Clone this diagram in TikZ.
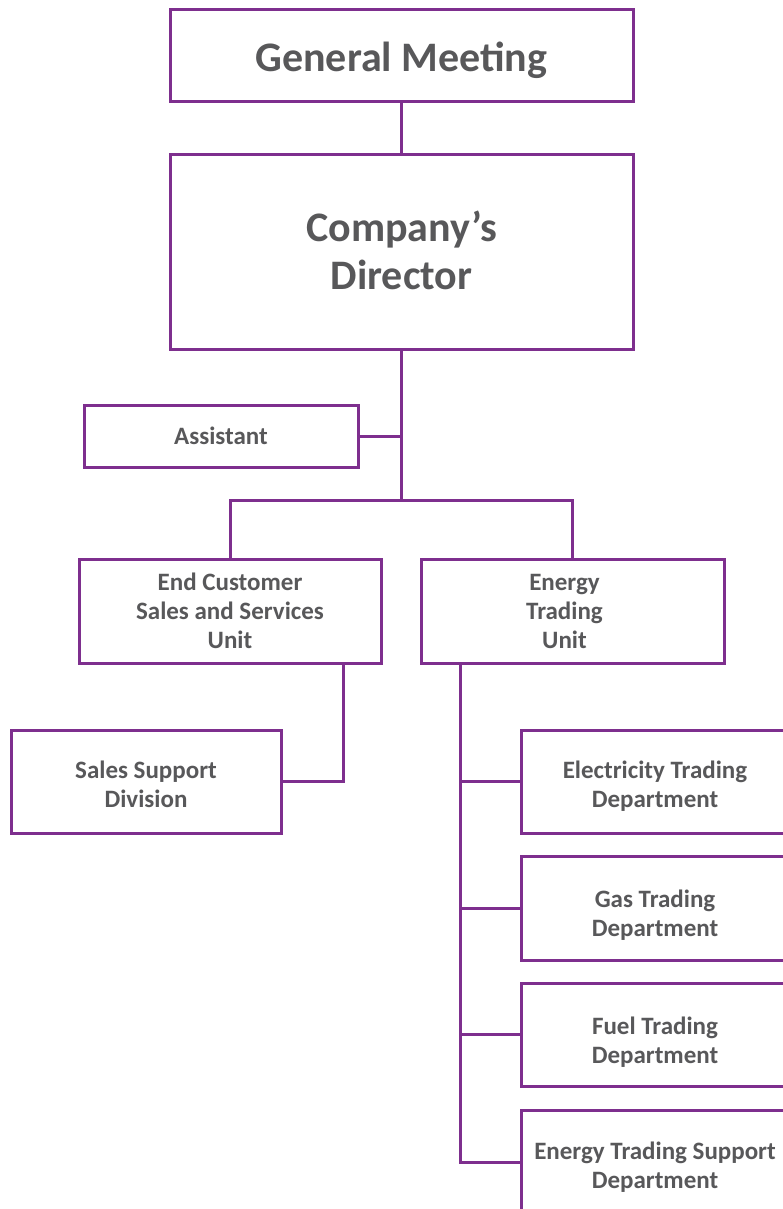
\documentclass[tikz,border=0pt]{standalone}
\usepackage{fontspec}
\setmainfont{Carlito}
\definecolor{frame}{HTML}{7E2F8E}
\definecolor{txt}{HTML}{58585A}
\begin{document}
\begin{tikzpicture}[x=1pt,y=-1pt,
  box/.style={draw=frame, line width=3pt, fill=white, inner sep=0pt},
  lbl/.style={text=txt, align=center, inner sep=0pt},
  biglbl/.style={lbl, font=\fontsize{42}{48}\selectfont\bfseries},
  smalllbl/.style={lbl, font=\fontsize{25}{29}\selectfont\bfseries},
  link/.style={draw=frame, line width=3pt}]
\useasboundingbox (0,0) rectangle (783,1209);
\clip (0,0) rectangle (783,1209);

% frames
\node[box, minimum width=463pt, minimum height=92pt]  (gm)   at (401.5,56)   {};
\node[box, minimum width=463pt, minimum height=194pt] (dir)  at (401.5,252)  {};
\node[box, minimum width=274pt, minimum height=62pt]  (asst) at (221,436)    {};
\node[box, minimum width=302pt, minimum height=104pt] (ecs)  at (230,611)    {};
\node[box, minimum width=303pt, minimum height=104pt] (etu)  at (572.5,611)  {};
\node[box, minimum width=270pt, minimum height=103pt] (ssd)  at (146,781.5)  {};
\node[box, minimum width=268pt, minimum height=103pt] (el)   at (655,781.5)  {};
\node[box, minimum width=268pt, minimum height=104pt] (gas)  at (655,908)    {};
\node[box, minimum width=268pt, minimum height=103pt] (fuel) at (655,1034.5) {};
\node[box, minimum width=268pt, minimum height=104pt] (etsd) at (655,1162)   {};

% labels
\node[biglbl]   (gmt)   at ([yshift=-4pt]gm.center)  {General Meeting};
\node[biglbl]   (dirt)  at ([yshift=2pt]dir.center)  {Company’s\\Director};
\node[smalllbl] (asstt) at (asst.center)             {Assistant};
\node[smalllbl] (ecst)  at (ecs.center)              {End Customer\\Sales and Services\\Unit};
\node[smalllbl] (etut)  at ([xshift=-8pt]etu.center) {Energy\\Trading\\Unit};
\node[smalllbl] (ssdt)  at ([yshift=-3pt]ssd.center) {Sales Support\\Division};
\node[smalllbl] (elt)   at ([yshift=-5pt]el.center)  {Electricity Trading\\Department};
\node[smalllbl] (gast)  at ([yshift=-7pt]gas.center) {Gas Trading\\Department};
\node[smalllbl] (fuelt) at ([yshift=-8pt]fuel.center) {Fuel Trading\\Department};
\node[smalllbl] (etsdt) at ([yshift=-5pt]etsd.center) {Energy Trading Support\\Department};

% connectors
\coordinate (j1) at (401.5,500);
\draw[link] (gm.south) -- (dir.north);
\draw[link] (dir.south) -- (j1);
\draw[link] (asst.east) -- (asst.east -| j1);
\draw[link] (ecs.north) |- (j1) -| (etu.north);
\coordinate (ecsout) at ([xshift=113pt]ecs.south);
\draw[link] (ecsout) |- (ssd.east);
\coordinate (sp) at ([xshift=-112.5pt]etu.south);
\draw[link] (sp) |- (etsd.west);
\draw[link] (sp |- el.west) -- (el.west);
\draw[link] (sp |- gas.west) -- (gas.west);
\draw[link] (sp |- fuel.west) -- (fuel.west);
\end{tikzpicture}
\end{document}
